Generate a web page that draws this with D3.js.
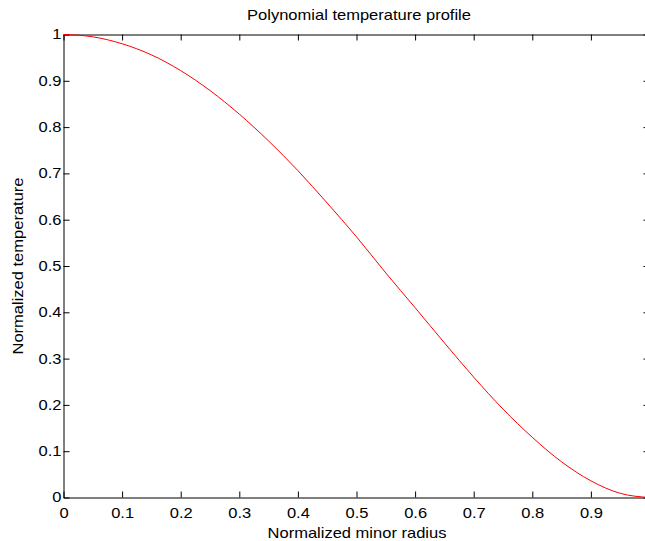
<!DOCTYPE html>
<html>
<head>
<meta charset="utf-8">
<script src="https://cdn.jsdelivr.net/npm/d3@7"></script>
<style>
  body { margin: 0; background: #fff; }
  text { font-family: "Liberation Sans", Arial, Helvetica, sans-serif; }
</style>
</head>
<body>
<script>
  var radius = [0, 0.05, 0.1, 0.15, 0.2, 0.25, 0.3, 0.35, 0.4, 0.45, 0.5,
                0.55, 0.6, 0.65, 0.7, 0.75, 0.8, 0.85, 0.9, 0.95, 1.0];
  var temperature = [1.000, 0.995, 0.980, 0.956, 0.922, 0.879, 0.828, 0.770, 0.706, 0.636, 0.563,
                     0.485, 0.410, 0.334, 0.260, 0.191, 0.130, 0.077, 0.036, 0.009, 0.000];
  var xTicks = [0, 0.1, 0.2, 0.3, 0.4, 0.5, 0.6, 0.7, 0.8, 0.9];
  var yTicks = [0, 0.1, 0.2, 0.3, 0.4, 0.5, 0.6, 0.7, 0.8, 0.9, 1];

  var width = 645,
      height = 541,
      margin = {left: 63.5, top: 34.5},
      plotWidth = 586,
      plotHeight = 463,
      tickLen = 6,
      stretch = 1.18;

  var fmt = d3.format("~g");

  var svg = d3.select("body")
    .append("svg")
      .attr("width", width)
      .attr("height", height);

  var x = d3.scaleLinear().domain([0, 1]).range([0, plotWidth]);
  var y = d3.scaleLinear().domain([0, 1]).range([plotHeight, 0]);

  var g = svg.append("g")
    .attr("transform", "translate(" + margin.left + "," + margin.top + ")");

  function styleAxis(sel) {
    sel.attr("font-family", null).attr("font-size", null);
    sel.select(".domain").attr("stroke", "#000");
    sel.selectAll(".tick line").attr("stroke", "#000");
    sel.selectAll("text").attr("fill", "#000").style("font-size", "14px");
  }

  // bottom + left carry labels, top + right only inward ticks
  g.append("g")
    .attr("transform", "translate(0," + plotHeight + ")")
    .call(d3.axisBottom(x).tickValues(xTicks).tickFormat(fmt).tickSizeInner(-tickLen).tickSizeOuter(0))
    .call(styleAxis)
    .selectAll("text")
      .attr("y", 20.5)
      .attr("dy", 0)
      .attr("transform", "scale(" + stretch + ",1)");

  g.append("g")
    .call(d3.axisLeft(y).tickValues(yTicks).tickFormat(fmt).tickSizeInner(-tickLen).tickSizeOuter(0))
    .call(styleAxis)
    .selectAll("text")
      .attr("x", -2 / stretch)
      .attr("transform", "scale(" + stretch + ",1)");

  g.append("g")
    .call(d3.axisTop(x).tickValues(xTicks).tickSizeInner(-tickLen).tickSizeOuter(0).tickFormat(""))
    .call(styleAxis);

  g.append("g")
    .attr("transform", "translate(" + plotWidth + ",0)")
    .call(d3.axisRight(y).tickValues(yTicks).tickSizeInner(-tickLen).tickSizeOuter(0).tickFormat(""))
    .call(styleAxis);

  var line = d3.line()
    .x(function(d, i) { return x(radius[i]); })
    .y(function(d) { return y(d); })
    .curve(d3.curveMonotoneX);

  g.append("path")
    .datum(temperature)
    .attr("d", line)
    .attr("fill", "none")
    .attr("stroke", "#ff0000")
    .attr("stroke-width", 1);

  svg.append("text")
    .attr("transform", "translate(359,20) scale(" + stretch + ",1)")
    .attr("text-anchor", "middle")
    .style("font-size", "14px")
    .text("Polynomial temperature profile");

  svg.append("text")
    .attr("transform", "translate(357,537.5) scale(" + stretch + ",1)")
    .attr("text-anchor", "middle")
    .style("font-size", "14px")
    .text("Normalized minor radius");

  svg.append("text")
    .attr("transform", "translate(23,266) rotate(-90) scale(" + stretch + ",1)")
    .attr("text-anchor", "middle")
    .style("font-size", "14px")
    .text("Normalized temperature");
</script>
</body>
</html>
